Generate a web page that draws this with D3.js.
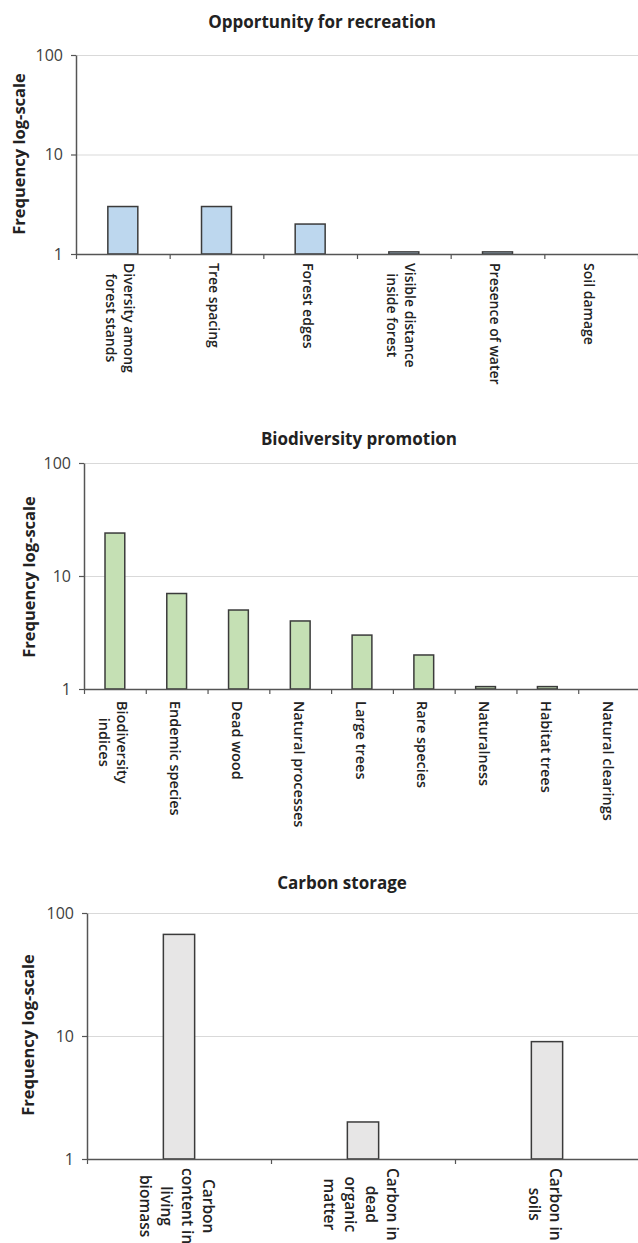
<!DOCTYPE html>
<html>
<head>
<meta charset="utf-8">
<script src="https://d3js.org/d3.v7.min.js"></script>
<style>
  body { margin: 0; background: #fff; }
  svg { display: block; font-family: "Open Sans", sans-serif; }
</style>
</head>
<body>
<svg id="chart" width="638" height="1243"></svg>
<script>
// data
var recreationCats = ["Diversity among\nforest stands", "Tree spacing", "Forest edges", "Visible distance\ninside forest", "Presence of water", "Soil damage"];
var recreationVals = [3, 3, 2, 1.05, 1.05, 1];

var biodivCats = ["Biodiversity\nindices", "Endemic species", "Dead wood", "Natural processes", "Large trees", "Rare species", "Naturalness", "Habitat trees", "Natural clearings"];
var biodivVals = [24, 7, 5, 4, 3, 2, 1.05, 1.05, 1];

var carbonCats = ["Carbon\ncontent in\nliving\nbiomass", "Carbon in\ndead\norganic\nmatter", "Carbon in\nsoils"];
var carbonVals = [67, 2, 9];

var yTicks = [1, 10, 100];
var yTitle = "Frequency log-scale";

var svg = d3.select("#chart");

// one panel = one small chart
function panel(p) {
    var y = d3.scaleLog().domain([1, 100]).range([p.y1, p.y100]);
    var x = d3.scaleBand().domain(d3.range(p.cats.length)).range([p.left, p.right]).padding(0);
    var xb = d3.scaleLinear().domain([0, p.cats.length]).range([p.left, p.right]);
    var bw = x.step() * p.barFrac;

    var g = svg.append("g");

    // gridlines
    g.append("g")
        .attr("transform", "translate(" + p.left + ",0)")
        .call(d3.axisLeft(y).tickValues([10, 100]).tickSize(-(p.right - p.left)).tickFormat(""))
        .call(function(s) {
            s.select(".domain").remove();
            s.selectAll("line").attr("stroke", "#d9d9d9").attr("stroke-width", 1.2);
        });

    // bars
    g.selectAll("rect.bar")
        .data(p.vals.map(function(v, i) { return { v: v, i: i }; }).filter(function(d) { return d.v > 1; }))
        .enter()
        .append("rect")
        .attr("class", "bar")
        .attr("x", function(d) { return x(d.i) + (x.step() - bw) / 2; })
        .attr("y", function(d) { return y(d.v); })
        .attr("width", bw)
        .attr("height", function(d) { return y(1) - y(d.v); })
        .style("fill", p.color)
        .style("stroke", "#3b3b3b")
        .style("stroke-width", 1.5);

    // y axis
    g.append("g")
        .attr("transform", "translate(" + p.left + ",0)")
        .call(d3.axisLeft(y).tickValues(yTicks).tickFormat(d3.format("d")).tickSize(5).tickSizeOuter(0).tickPadding(8))
        .call(function(s) {
            s.select(".domain").attr("stroke", "#555").attr("stroke-width", 1.5);
            s.selectAll("line").attr("stroke", "#555").attr("stroke-width", 1.2);
            s.selectAll("text").attr("fill", "#404040").style("font-size", "16px").style("font-family", "Open Sans");
        });

    // x axis with ticks between categories
    g.append("g")
        .attr("transform", "translate(0," + p.y1 + ")")
        .call(d3.axisBottom(xb).tickValues(d3.range(p.cats.length + 1)).tickFormat("").tickSize(5).tickSizeOuter(0))
        .call(function(s) {
            s.select(".domain").attr("stroke", "#555").attr("stroke-width", 1.5);
            s.selectAll("line").attr("stroke", "#555").attr("stroke-width", 1.2);
        });

    // category labels, rotated to read downwards
    p.cats.forEach(function(c, i) {
        var lines = c.split("\n");
        var lg = g.append("g")
            .attr("transform", "translate(" + (x(i) + x.step() / 2 + p.labelShift) + "," + p.labelTop + ")rotate(90)");
        var texts = lines.map(function(l, k) {
            return lg.append("text")
                .attr("y", (k - (lines.length - 1) / 2) * p.lineH)
                .attr("dominant-baseline", "central")
                .attr("text-anchor", "middle")
                .style("font-size", p.labelSize + "px")
                .style("font-weight", 600)
                .style("fill", "#222")
                .text(l);
        });
        var maxLen = d3.max(texts, function(t) { return t.node().getComputedTextLength(); });
        texts.forEach(function(t) { t.attr("x", maxLen / 2); });
    });

    // title
    svg.append("text")
        .attr("x", p.titleX)
        .attr("y", p.titleY)
        .attr("text-anchor", "middle")
        .style("font-size", "17px")
        .style("font-weight", "bold")
        .style("fill", "#222")
        .text(p.title);

    // y title
    svg.append("text")
        .attr("text-anchor", "middle")
        .attr("transform", "translate(" + p.yTitleX + "," + p.yTitleY + ")rotate(-90)")
        .attr("dominant-baseline", "central")
        .style("font-size", "16.5px")
        .style("font-weight", "bold")
        .style("fill", "#222")
        .text(yTitle);
}

panel({ cats: recreationCats, vals: recreationVals, color: "#bdd7ee", title: "Opportunity for recreation",
        left: 76, right: 638, y100: 55, y1: 254, barFrac: 0.32, titleX: 322, titleY: 28, yTitleX: 18, yTitleY: 154,
        labelTop: 263, labelSize: 14, lineH: 18, labelShift: -2 });

panel({ cats: biodivCats, vals: biodivVals, color: "#c5e0b4", title: "Biodiversity promotion",
        left: 84, right: 640, y100: 463, y1: 689, barFrac: 0.32, titleX: 359, titleY: 445, yTitleX: 28, yTitleY: 577,
        labelTop: 701, labelSize: 14.5, lineH: 18, labelShift: -1 });

panel({ cats: carbonCats, vals: carbonVals, color: "#e7e6e6", title: "Carbon storage",
        left: 87, right: 639, y100: 913, y1: 1159, barFrac: 0.17, titleX: 342, titleY: 889, yTitleX: 27, yTitleY: 1035,
        labelTop: 1168, labelSize: 15.5, lineH: 21, labelShift: -2 });
</script>
</body>
</html>
